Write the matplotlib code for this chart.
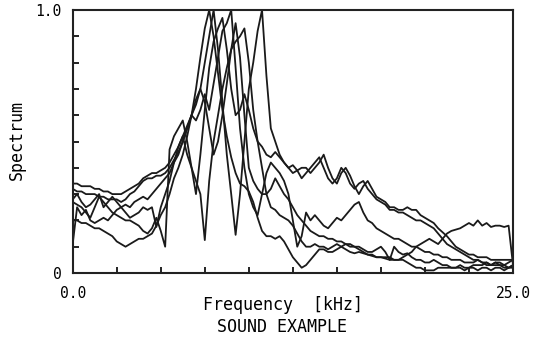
import numpy as np
import matplotlib
matplotlib.use("Agg")
from matplotlib import pyplot as plt

# frequency grid [kHz], one point every 0.25 kHz
freq = np.arange(0, 25.01, 0.25)

# spectra (normalised, 0..1)
spec_a = [0.20, 0.20, 0.19, 0.19, 0.18, 0.17, 0.17, 0.16, 0.15, 0.14, 0.12, 0.11, 0.10,
          0.11, 0.12, 0.13, 0.13, 0.14, 0.15, 0.18, 0.22, 0.25, 0.30, 0.36, 0.40,
          0.45, 0.52, 0.60, 0.70, 0.82, 0.93, 1.00, 0.90, 0.76, 0.62, 0.52, 0.44,
          0.38, 0.34, 0.33, 0.31, 0.27, 0.21, 0.16, 0.14, 0.14, 0.13, 0.14, 0.12,
          0.09, 0.06, 0.04, 0.02, 0.03, 0.05, 0.07, 0.09, 0.09, 0.08, 0.08, 0.09,
          0.10, 0.11, 0.10, 0.10, 0.09, 0.08, 0.07, 0.07, 0.06, 0.06, 0.06, 0.06,
          0.05, 0.05, 0.05, 0.04, 0.03, 0.02, 0.02, 0.01, 0.01, 0.01, 0.02, 0.02,
          0.02, 0.02, 0.02, 0.03, 0.02, 0.02, 0.03, 0.03, 0.03, 0.04, 0.03, 0.04,
          0.04, 0.03, 0.04, 0.05]
spec_b = [0.34, 0.34, 0.33, 0.33, 0.33, 0.32, 0.32, 0.31, 0.31, 0.30, 0.30, 0.30, 0.31,
          0.32, 0.33, 0.34, 0.36, 0.37, 0.38, 0.38, 0.39, 0.40, 0.42, 0.45, 0.48,
          0.52, 0.56, 0.60, 0.58, 0.62, 0.68, 0.62, 0.72, 0.82, 0.92, 0.95, 1.00,
          0.78, 0.55, 0.40, 0.30, 0.25, 0.22, 0.30, 0.38, 0.42, 0.40, 0.38, 0.35,
          0.30, 0.20, 0.10, 0.14, 0.23, 0.20, 0.22, 0.20, 0.18, 0.17, 0.19, 0.21,
          0.20, 0.22, 0.24, 0.26, 0.27, 0.23, 0.20, 0.19, 0.17, 0.16, 0.15, 0.14,
          0.13, 0.13, 0.12, 0.11, 0.10, 0.10, 0.09, 0.08, 0.08, 0.07, 0.07, 0.06,
          0.06, 0.05, 0.05, 0.05, 0.04, 0.04, 0.04, 0.05, 0.04, 0.03, 0.03, 0.04,
          0.03, 0.03, 0.02, 0.03]
spec_c = [0.32, 0.31, 0.31, 0.30, 0.30, 0.30, 0.29, 0.29, 0.28, 0.28, 0.28, 0.27, 0.28,
          0.30, 0.31, 0.33, 0.35, 0.36, 0.36, 0.37, 0.37, 0.38, 0.40, 0.43, 0.46,
          0.50, 0.55, 0.60, 0.64, 0.70, 0.80, 0.90, 1.00, 0.85, 0.65, 0.45, 0.30,
          0.145, 0.30, 0.50, 0.70, 0.80, 0.92, 1.00, 0.75, 0.55, 0.50, 0.45, 0.42,
          0.40, 0.38, 0.39, 0.40, 0.40, 0.38, 0.40, 0.42, 0.45, 0.40, 0.36, 0.34,
          0.38, 0.40, 0.37, 0.33, 0.30, 0.33, 0.35, 0.32, 0.29, 0.28, 0.27, 0.25,
          0.25, 0.24, 0.24, 0.25, 0.24, 0.24, 0.22, 0.21, 0.20, 0.19, 0.17, 0.155,
          0.14, 0.12, 0.10, 0.09, 0.08, 0.07, 0.07, 0.06, 0.06, 0.06, 0.05, 0.05,
          0.05, 0.05, 0.05, 0.05]
spec_d = [0.27, 0.26, 0.25, 0.23, 0.21, 0.25, 0.29, 0.27, 0.25, 0.23, 0.22, 0.21, 0.20,
          0.20, 0.19, 0.18, 0.16, 0.15, 0.17, 0.21, 0.16, 0.10, 0.47, 0.52, 0.55,
          0.58, 0.50, 0.40, 0.30, 0.45, 0.62, 0.78, 0.88, 0.93, 0.97, 0.85, 0.70,
          0.60, 0.62, 0.68, 0.62, 0.55, 0.50, 0.48,
          0.45, 0.44, 0.46, 0.44, 0.42, 0.40, 0.41, 0.39, 0.36, 0.38, 0.40, 0.42,
          0.44, 0.40, 0.36, 0.34, 0.36, 0.40, 0.38, 0.34, 0.32, 0.34, 0.35, 0.32,
          0.30, 0.28, 0.27, 0.26, 0.24, 0.24, 0.23, 0.23, 0.22, 0.21, 0.20, 0.20,
          0.19, 0.18, 0.17, 0.15, 0.13, 0.11, 0.10, 0.09, 0.08, 0.07, 0.06, 0.05,
          0.05, 0.04, 0.04, 0.03, 0.03, 0.03, 0.02, 0.02, 0.03]
spec_e = [0.28, 0.30, 0.27, 0.25, 0.26, 0.28, 0.30, 0.25, 0.27, 0.29, 0.27, 0.25, 0.23,
          0.21, 0.22, 0.23, 0.25, 0.24, 0.25, 0.175, 0.25, 0.30, 0.35, 0.42, 0.48,
          0.52, 0.45, 0.40, 0.35, 0.30, 0.125, 0.35, 0.50, 0.60, 0.70, 0.78, 0.85,
          0.88, 0.90, 0.93, 0.80, 0.62, 0.50, 0.40, 0.30, 0.25, 0.24, 0.22, 0.21,
          0.20, 0.18, 0.15, 0.12, 0.10, 0.10, 0.11, 0.10, 0.10, 0.09, 0.10, 0.11,
          0.10, 0.09, 0.08, 0.075, 0.08, 0.075, 0.07, 0.065, 0.06, 0.06, 0.055, 0.05,
          0.05, 0.05, 0.06, 0.07, 0.08, 0.10, 0.11, 0.12, 0.13, 0.12, 0.11, 0.13,
          0.15, 0.16, 0.165, 0.17, 0.18, 0.19, 0.18, 0.20, 0.18, 0.19, 0.175, 0.18,
          0.18, 0.175, 0.18, 0.03]
spec_f = [0.11, 0.25, 0.22, 0.24, 0.20, 0.19, 0.20, 0.21, 0.20, 0.22, 0.24, 0.25, 0.26,
          0.25, 0.27, 0.28, 0.29, 0.28, 0.30, 0.32, 0.34, 0.36, 0.38, 0.42, 0.45,
          0.50, 0.55, 0.60, 0.66, 0.70, 0.65, 0.55, 0.45, 0.50, 0.60, 0.72, 0.85,
          0.95, 0.82, 0.60, 0.40, 0.35, 0.32, 0.30, 0.30, 0.32, 0.36, 0.33, 0.30,
          0.28, 0.25, 0.22, 0.20, 0.18, 0.16, 0.15, 0.14, 0.14, 0.13, 0.13, 0.12,
          0.12, 0.11, 0.11, 0.10, 0.10, 0.09, 0.08, 0.08, 0.09, 0.10, 0.08, 0.05,
          0.10, 0.08, 0.07, 0.075, 0.06, 0.05, 0.05, 0.04, 0.04, 0.05, 0.04, 0.03,
          0.03, 0.02, 0.02, 0.02, 0.01, 0.02, 0.02, 0.01, 0.02, 0.02, 0.01, 0.02,
          0.02, 0.01, 0.02, 0.02]
spectra = [spec_a, spec_b, spec_c, spec_d, spec_e, spec_f]

W, H = 533, 338
fig = plt.figure(figsize=(W / 100, H / 100), dpi=100)
fig.patch.set_facecolor("white")
ax = fig.add_axes([72.7 / W, 1 - 273 / H, (513 - 72.7) / W, (273 - 10) / H])

for s in spectra:
    ax.plot(freq, s, color="#1a1a1a", lw=1.3)

ax.set_xlim(0, 25)
ax.set_ylim(0, 1)
for sp in ax.spines.values():
    sp.set_linewidth(1.5)
    sp.set_color("#222222")

mono = "DejaVu Sans Mono"
ax.set_xticks(np.arange(0, 25.01, 2.5))
ax.set_xticklabels(["0.0"] + [""] * 9 + ["25.0"], family=mono, fontsize=10.5)
ax.set_yticks(np.arange(0, 1.01, 0.1))
ax.set_yticklabels(["0"] + [""] * 9 + ["1.0"], family=mono, fontsize=10.5)
ax.tick_params(direction="in", length=4, width=1.4, color="#222222")
ax.tick_params(axis="x", pad=9)
ax.tick_params(axis="y", pad=8)

fig.text(203 / W, 1 - 305 / H, "Frequency  [kHz]", family=mono, fontsize=12,
         ha="left", va="center")
fig.text(217 / W, 1 - 327 / H, "SOUND EXAMPLE", family=mono, fontsize=12,
         ha="left", va="center")
fig.text(17 / W, 1 - 140 / H, "Spectrum", family=mono, fontsize=12,
         rotation=90, ha="center", va="center")

fig.savefig("out.png", dpi=100)
